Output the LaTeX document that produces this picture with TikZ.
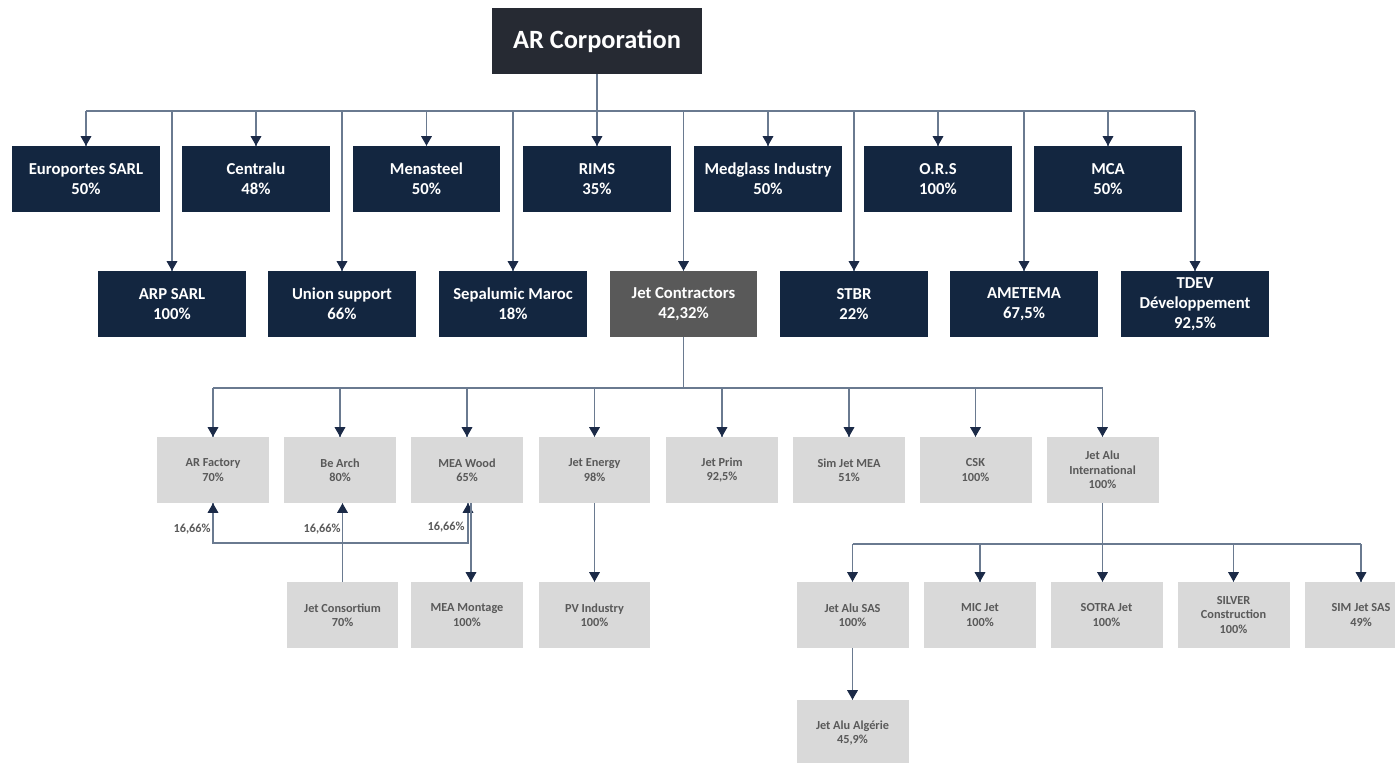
\documentclass[tikz,border=0pt]{standalone}
\usepackage{fontspec}
\setmainfont{Carlito}
\usepackage{tikz}
\usetikzlibrary{arrows}
\usetikzlibrary{decorations.markings}
\definecolor{navy}{HTML}{132640}
\definecolor{corpgrey}{HTML}{262A33}
\definecolor{jetgrey}{HTML}{595959}
\definecolor{lightbox}{HTML}{D9D9D9}
\definecolor{subtext}{HTML}{595959}
\definecolor{linecol}{HTML}{6A7A90}
\definecolor{tipblue}{HTML}{1B2A47}
\tikzset{->/.style = {decoration={markings,
                                  mark=at position 1 with {\arrow[scale=0.9,tipblue]{triangle 60}}},
                      postaction={decorate}}}
\tikzset{
  topbox/.style = {fill=corpgrey, text=white, font=\bfseries\fontsize{15}{18}\selectfont,
                   minimum width=4.2cm, minimum height=1.32cm, inner sep=0pt},
  firm/.style = {fill=navy, text=white, font=\bfseries\fontsize{9.5}{11.5}\selectfont,
                 align=center, minimum width=2.96cm, minimum height=1.32cm, inner sep=0pt},
  jetbox/.style = {firm, fill=jetgrey},
  subfirm/.style = {fill=lightbox, text=subtext, font=\bfseries\fontsize{7}{8.2}\selectfont,
                    align=center, minimum width=2.24cm, minimum height=1.32cm, inner sep=0pt},
  conn/.style = {draw=linecol, line width=0.6pt},
  pct/.style = {text=subtext, font=\bfseries\fontsize{7}{8.2}\selectfont, inner sep=0pt}
}

\begin{document}
\begin{tikzpicture}[x=0.02cm, y=-0.02cm]
  \useasboundingbox (0,0) rectangle (1395,763);

  \node[topbox] (arcorp) at (597,41) {AR Corporation};

  \foreach \n/\x/\t in {euro/86/{Europortes SARL\\50\%}, centralu/256/{Centralu\\48\%},
                        menasteel/426.5/{Menasteel\\50\%}, rims/597/{RIMS\\35\%},
                        medglass/768/{Medglass Industry\\50\%}, ors/938/{O.R.S\\100\%},
                        mca/1108/{MCA\\50\%}} {
    \node[firm] (\n) at (\x,179) {\t};
  }
  \foreach \n/\x/\t in {arp/172/{ARP SARL\\100\%}, union/342/{Union support\\66\%},
                        sepal/513/{Sepalumic Maroc\\18\%}, stbr/854/{STBR\\22\%},
                        ametema/1024/{AMETEMA\\67,5\%},
                        tdev/1195/{TDEV\\Développement\\92,5\%}} {
    \node[firm] (\n) at (\x,304) {\t};
  }
  \node[jetbox] (jetc) at (683.5,304) {Jet Contractors\\42,32\%};

  \foreach \n/\x/\t in {arfact/213/{AR Factory\\70\%}, bearch/340/{Be Arch\\80\%},
                        meawood/467/{MEA Wood\\65\%}, jetenergy/594.5/{Jet Energy\\98\%},
                        jetprim/722/{Jet Prim\\92,5\%}, simmea/849/{Sim Jet MEA\\51\%},
                        csk/975.5/{CSK\\100\%}, jetalu/1102.5/{Jet Alu\\International\\100\%}} {
    \node[subfirm] (\n) at (\x,470) {\t};
  }
  \foreach \n/\x/\t in {jcons/342.5/{Jet Consortium\\70\%}, meamont/467/{MEA Montage\\100\%},
                        pvind/594.5/{PV Industry\\100\%}, jetalusas/852.5/{Jet Alu SAS\\100\%},
                        micjet/980/{MIC Jet\\100\%}, sotra/1106.5/{SOTRA Jet\\100\%},
                        silver/1233.5/{SILVER\\Construction\\100\%},
                        simsas/1361/{SIM Jet SAS\\49\%}} {
    \node[subfirm] (\n) at (\x,615) {\t};
  }
  \node[subfirm] (jetalg) at (852.5,733) {Jet Alu Algérie\\45,9\%};

  \coordinate (bus1) at (597,111);
  \coordinate (bus2) at (683.5,388);
  \coordinate (bus3) at (1102.5,544);
  \coordinate (bus4) at (342.5,543);

  \draw[conn] (arcorp.south) -- (bus1);
  \draw[conn] (euro.north |- bus1) -- (tdev.north |- bus1);
  \foreach \n in {euro,centralu,menasteel,rims,medglass,ors,mca,
                  arp,union,sepal,jetc,stbr,ametema,tdev} {
    \draw[conn,->] (\n.north |- bus1) -- (\n.north);
  }

  \draw[conn] (jetc.south) -- (bus2);
  \draw[conn] (arfact.north |- bus2) -- (jetalu.north |- bus2);
  \foreach \n in {arfact,bearch,meawood,jetenergy,jetprim,simmea,csk,jetalu} {
    \draw[conn,->] (\n.north |- bus2) -- (\n.north);
  }

  \draw[conn,->] (jcons.north) -- (jcons.north |- bearch.south);
  \draw[conn,->] (bus4) -| (arfact.south);
  \draw[conn,->] (bus4) -| ([xshift=0.02cm]meawood.south);
  \draw[conn,->] ([xshift=0.08cm]meawood.south) -- ([xshift=0.08cm]meamont.north);
  \draw[conn,->] (jetenergy.south) -- (pvind.north);

  \node[pct, anchor=east] (pcta) at (211,529) {16,66\%};
  \node[pct, anchor=east] (pctb) at (341,529) {16,66\%};
  \node[pct, anchor=east] (pctc) at (465,527) {16,66\%};

  \draw[conn,->] (jetalu.south) -- (jetalu.south |- sotra.north);
  \draw[conn] (jetalusas.north |- bus3) -- (simsas.north |- bus3);
  \foreach \n in {jetalusas,micjet,silver,simsas} {
    \draw[conn,->] (\n.north |- bus3) -- (\n.north);
  }
  \draw[conn,->] (jetalusas.south) -- (jetalg.north);
\end{tikzpicture}
\end{document}
